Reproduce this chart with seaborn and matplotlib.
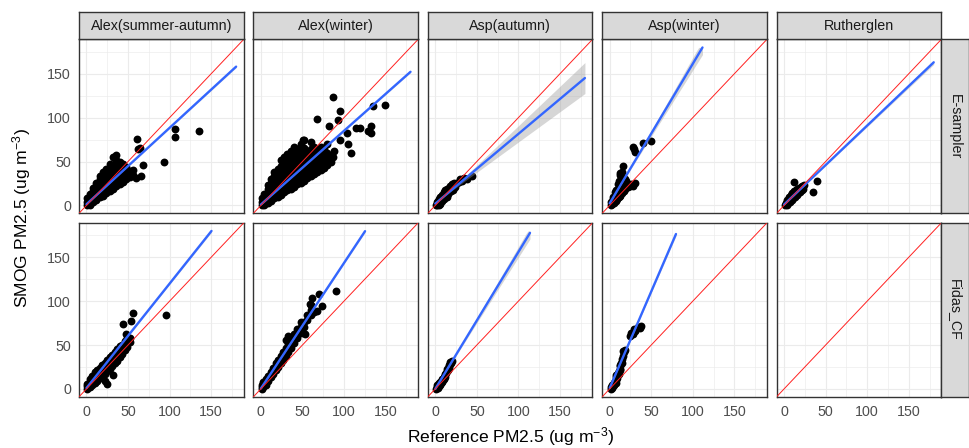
import numpy as np
import pandas as pd
import matplotlib
matplotlib.use("Agg")
import matplotlib.pyplot as plt
import seaborn as sns

sns.set_style("white")
plt.rcParams["font.family"] = ["Liberation Sans", "DejaVu Sans"]
plt.rcParams["mathtext.fontset"] = "custom"
plt.rcParams["mathtext.rm"] = "Liberation Sans"
plt.rcParams["mathtext.it"] = "Liberation Sans:italic"

# ---------------- data ----------------
sites = ["Alex(summer-autumn)", "Alex(winter)", "Asp(autumn)", "Asp(winter)", "Rutherglen"]
samplers = ["E-sampler", "Fidas_CF"]
tick_values = [0, 50, 100, 150]
minor_values = [25, 75, 125, 175]
x_title = r"Reference PM2.5 (ug m$^{-3}$)"
y_title = r"SMOG PM2.5 (ug m$^{-3}$)"

# points, column form: (reference PM2.5, [SMOG PM2.5 values])
alex_sa_e = [(1, [0, 4, 8]), (4, [1, 5, 9, 13]), (8, [4, 8, 12, 16, 20]),
             (12, [6, 10, 14, 18, 22, 26]), (16, [9, 13, 17, 21, 25, 30, 34]),
             (20, [11, 15, 19, 23, 27, 32, 38]), (24, [14, 18, 22, 26, 31, 36, 42]),
             (28, [16, 20, 25, 30, 35, 40, 47]), (32, [19, 23, 28, 34, 40, 46, 55]),
             (36, [22, 27, 33, 39, 45, 52, 57]), (40, [24, 30, 36, 43, 50]),
             (44, [27, 34, 41, 47]), (48, [30, 37, 44]), (52, [32, 39]), (56, [35, 40]),
             (60, [31]), (61, [76]), (64, [65]), (62, [64]), (65, [34]), (68, [46]),
             (93, [50]), (106, [87, 78]), (135, [85])]
alex_w_e = [(1, [0, 4, 8]), (4, [1, 5, 9, 13]), (8, [3, 7, 11, 15, 19, 23]),
            (12, [5, 9, 13, 17, 21, 25, 30]), (16, [8, 12, 16, 20, 24, 28, 33, 38]),
            (20, [10, 14, 18, 22, 26, 30, 35, 41]), (24, [12, 16, 20, 24, 28, 33, 38, 45, 52]),
            (28, [15, 19, 23, 27, 31, 36, 41, 47, 55]), (32, [17, 21, 25, 29, 34, 39, 45, 51, 58]),
            (36, [19, 23, 28, 33, 38, 43, 49, 56, 62]), (40, [21, 26, 31, 36, 41, 47, 53, 60, 66]),
            (44, [24, 29, 34, 39, 45, 51, 57, 64]), (48, [26, 31, 37, 42, 48, 54, 61, 70]),
            (52, [28, 34, 40, 46, 52, 58, 65, 75]), (56, [31, 37, 43, 49, 55, 61]),
            (60, [33, 39, 45, 51, 58, 64, 72]), (64, [36, 42, 48, 54, 60, 66]),
            (68, [38, 44, 50, 56, 63, 98]), (72, [40, 47, 53, 59, 66]), (76, [43, 50, 57, 64]),
            (80, [46, 53, 60, 70]), (84, [49, 56]), (87, [124, 55]), (88, [62]),
            (135, [113]), (149, [114]), (95, [107, 75]), (93, [97]), (82, [91]),
            (115, [88]), (119, [88]), (133, [90, 83]), (129, [85]), (103, [82]),
            (105, [70]), (109, [60]), (51, [75]), (37, [56])]
asp_a_e = [(1, [1]), (2, [4, 0]), (3, [2, 5]), (4, [7]), (5, [4, 1]), (6, [9, 2]), (7, [5]),
           (8, [12, 5]), (9, [8]), (10, [15, 7]), (11, [9]), (12, [17, 14]), (13, [11]),
           (14, [19, 10]), (15, [13]), (16, [20]), (17, [15]), (18, [22]), (19, [16]),
           (20, [24]), (21, [18]), (22, [25]), (24, [21]), (26, [25]), (28, [27]),
           (30, [30]), (32, [28]), (34, [31]), (38, [30]), (44, [33])]
asp_w_e = [(1, [1]), (2, [4]), (3, [2]), (4, [7, 10]), (5, [3]), (6, [10, 15]), (7, [5]),
           (8, [13, 18]), (9, [7]), (10, [16, 24]), (11, [9, 28]), (12, [20, 37]),
           (13, [11, 35]), (14, [24, 33]), (15, [14, 38]), (16, [27, 45]), (17, [16]),
           (18, [30]), (19, [19]), (20, [25, 28]), (22, [21]), (24, [22]), (26, [24]),
           (28, [22, 66]), (29, [64]), (30, [26, 61]), (40, [71]), (50, [73])]
ruth_e = [(1, [1]), (2, [3]), (3, [1, 4]), (4, [6]), (5, [3]), (6, [9, 6]), (7, [4]),
          (8, [12]), (9, [6]), (10, [14, 11]), (11, [8]), (12, [16, 27]), (13, [10]),
          (14, [18, 13]), (15, [12]), (16, [19]), (17, [14]), (18, [20, 16]), (19, [15]),
          (20, [21]), (21, [17]), (22, [22]), (23, [19]), (24, [23]), (39, [28]), (35, [15])]
alex_sa_f = [(1, [0, 3, 6]), (4, [2, 5, 8, 11]), (7, [4, 8, 12, 15]), (10, [7, 11, 15, 19]),
             (13, [9, 13, 17, 21]), (16, [12, 16, 20, 24]), (19, [14, 18, 22, 27]),
             (22, [17, 21, 25, 30, 9]), (25, [20, 24, 28, 33, 6]), (28, [23, 27, 31, 36]),
             (31, [26, 30, 34, 39]), (34, [29, 33, 37, 42]), (37, [32, 36, 40, 45]),
             (40, [36, 40, 44, 49]), (43, [40, 45, 50]), (46, [44, 49, 55]),
             (49, [48, 53, 58]), (52, [53, 58]), (56, [86]), (96, [84]), (44, [74]),
             (54, [77]), (48, [63]), (32, [16])]
alex_w_f = [(1, [0, 2, 5]), (3, [2, 5, 8]), (6, [5, 8, 11]), (9, [9, 12, 15]),
            (12, [13, 16, 19]), (15, [17, 20, 24]), (18, [21, 25, 29]), (21, [25, 29, 33]),
            (24, [29, 33, 37]), (27, [33, 38, 42]), (30, [38, 42, 47, 56]),
            (33, [42, 46, 51, 60]), (36, [47, 51, 56]), (40, [52, 57, 62]),
            (44, [58, 63, 68]), (48, [64, 70, 76]), (52, [70, 76]), (56, [78, 84]),
            (60, [84, 90, 96]), (90, [111]), (70, [108]), (61, [104]), (73, [95]),
            (67, [89]), (53, [62]), (59, [97]), (64, [88])]
asp_a_f = [(1, [0]), (2, [2, 5]), (3, [4, 1]), (4, [3, 7]), (5, [6]), (6, [8, 5]), (7, [7]),
           (8, [11, 8]), (9, [10]), (10, [14, 11]), (11, [13]), (12, [17, 14]), (13, [18]),
           (14, [20, 23]), (15, [22]), (16, [24, 27]), (17, [26]), (18, [28, 31]),
           (19, [30]), (20, [32])]
asp_w_f = [(1, [0]), (2, [2]), (3, [4, 1]), (4, [3]), (5, [7, 4]), (6, [9]), (7, [10, 7]),
           (8, [13, 16]), (9, [16, 12]), (10, [18]), (11, [20, 17]), (12, [23, 27]),
           (13, [26, 22]), (14, [30]), (15, [34, 30]), (16, [38, 43]), (17, [42]),
           (18, [44]), (25, [60]), (26, [64]), (28, [62]), (29, [68]), (30, [66]),
           (34, [70]), (36, [69]), (38, [72])]
ruth_f = []

point_sets = {
    ("E-sampler", sites[0]): alex_sa_e, ("E-sampler", sites[1]): alex_w_e,
    ("E-sampler", sites[2]): asp_a_e, ("E-sampler", sites[3]): asp_w_e,
    ("E-sampler", sites[4]): ruth_e,
    ("Fidas_CF", sites[0]): alex_sa_f, ("Fidas_CF", sites[1]): alex_w_f,
    ("Fidas_CF", sites[2]): asp_a_f, ("Fidas_CF", sites[3]): asp_w_f,
    ("Fidas_CF", sites[4]): ruth_f,
}

# linear fits (slope, intercept, mean x, CI growth)
e_slope = [0.871, 0.84, 0.795, 1.59, 0.90]
e_intercept = [1.3, 1.0, 2.0, 2.4, 1.0]
e_xmean = [20, 30, 12, 10, 10]
e_ci_growth = [0.006, 0.005, 0.105, 0.08, 0.014]
f_slope = [1.19, 1.43, 1.56, 2.2, None]
f_intercept = [1.0, 0.5, 0.0, 1.0, None]
f_xmean = [18, 22, 8, 8, None]
f_ci_growth = [0.01, 0.012, 0.065, 0.03, None]

rows = []
for (samp, site), cols in point_sets.items():
    for xv, yl in cols:
        for yv in yl:
            rows.append({"sampler": samp, "site": site, "ref": xv, "smog": yv})
df = pd.DataFrame(rows, columns=["sampler", "site", "ref", "smog"])

# ---------------- layout ----------------
W, H = 970, 448
fig = plt.figure(figsize=(W / 100, H / 100), dpi=100)

def fbox(x0, y0, w, h):
    return [x0 / W, 1 - (y0 + h) / H, w / W, h / H]

col_left = [79 + i * 174.4 for i in range(5)]
pw = 164.6
row_top = [39.5, 223.0]
ph = 173.8
lim = (-9, 189)
border = "#333333"

for r, samp in enumerate(samplers):
    slopes = e_slope if r == 0 else f_slope
    inters = e_intercept if r == 0 else f_intercept
    xmeans = e_xmean if r == 0 else f_xmean
    grows = e_ci_growth if r == 0 else f_ci_growth
    for c, site in enumerate(sites):
        ax = fig.add_axes(fbox(col_left[c], row_top[r], pw, ph))
        ax.set_facecolor("white")
        ax.set_xlim(lim)
        ax.set_ylim(lim)
        ax.set_xticks(tick_values)
        ax.set_yticks(tick_values)
        ax.set_xticks(minor_values, minor=True)
        ax.set_yticks(minor_values, minor=True)
        ax.grid(True, which="major", color="#EBEBEB", lw=0.8)
        ax.grid(True, which="minor", color="#EBEBEB", lw=0.45)
        ax.set_axisbelow(True)
        for sp in ax.spines.values():
            sp.set_color(border)
            sp.set_linewidth(1.0)
        ax.tick_params(which="minor", length=0)
        ax.tick_params(axis="both", which="major", length=3.2, width=0.8,
                       color=border, labelcolor="#4D4D4D", labelsize=10.3, pad=2.5)
        if r == 0:
            ax.tick_params(axis="x", which="major", length=0, labelbottom=False)
        if c > 0:
            ax.tick_params(axis="y", which="major", length=0, labelleft=False)

        sub = df[(df["sampler"] == samp) & (df["site"] == site)]
        if len(sub):
            sns.scatterplot(data=sub, x="ref", y="smog", ax=ax, color="black",
                            s=32, linewidth=0, zorder=3)
        if slopes[c] is not None:
            xg = np.linspace(0, 180, 80)
            yg = inters[c] + slopes[c] * xg
            keep = yg <= 180
            xg, yg = xg[keep], yg[keep]
            h = np.sqrt(0.6 ** 2 + (grows[c] * (xg - xmeans[c])) ** 2)
            ax.fill_between(xg, yg - h, np.minimum(yg + h, 180), color="#999999",
                            alpha=0.4, linewidth=0, zorder=4)
            sns.lineplot(x=xg, y=yg, ax=ax, color="#3366FF", lw=1.7, zorder=5)
        ax.axline((0, 0), slope=1, color="#FF2020", lw=0.7, zorder=6)
        ax.set_xlabel("")
        ax.set_ylabel("")

        if r == 0:
            sax = fig.add_axes(fbox(col_left[c], 12.0, pw, row_top[0] - 12.0))
            sax.set_facecolor("#D9D9D9")
            sax.set_xticks([])
            sax.set_yticks([])
            for sp in sax.spines.values():
                sp.set_color(border)
                sp.set_linewidth(1.0)
            sax.text(0.5, 0.5, site, ha="center", va="center", fontsize=10.3,
                     color="#1A1A1A", transform=sax.transAxes)
    # right strip
    rax = fig.add_axes(fbox(col_left[4] + pw, row_top[r], 970 - (col_left[4] + pw) - 0.5, ph))
    rax.set_facecolor("#D9D9D9")
    rax.set_xticks([])
    rax.set_yticks([])
    for sp in rax.spines.values():
        sp.set_color(border)
        sp.set_linewidth(1.0)
    rax.text(0.5, 0.5, samp, ha="center", va="center", rotation=-90, fontsize=10.3,
             color="#1A1A1A", transform=rax.transAxes)

fig.text(510.5 / W, 1 - 437 / H, x_title, ha="center", va="center", fontsize=12.6,
         color="black")
fig.text(22 / W, 1 - 218 / H, y_title, ha="center", va="center", rotation=90,
         fontsize=12.6, color="black")

fig.savefig("out.png", dpi=100, facecolor="white")
